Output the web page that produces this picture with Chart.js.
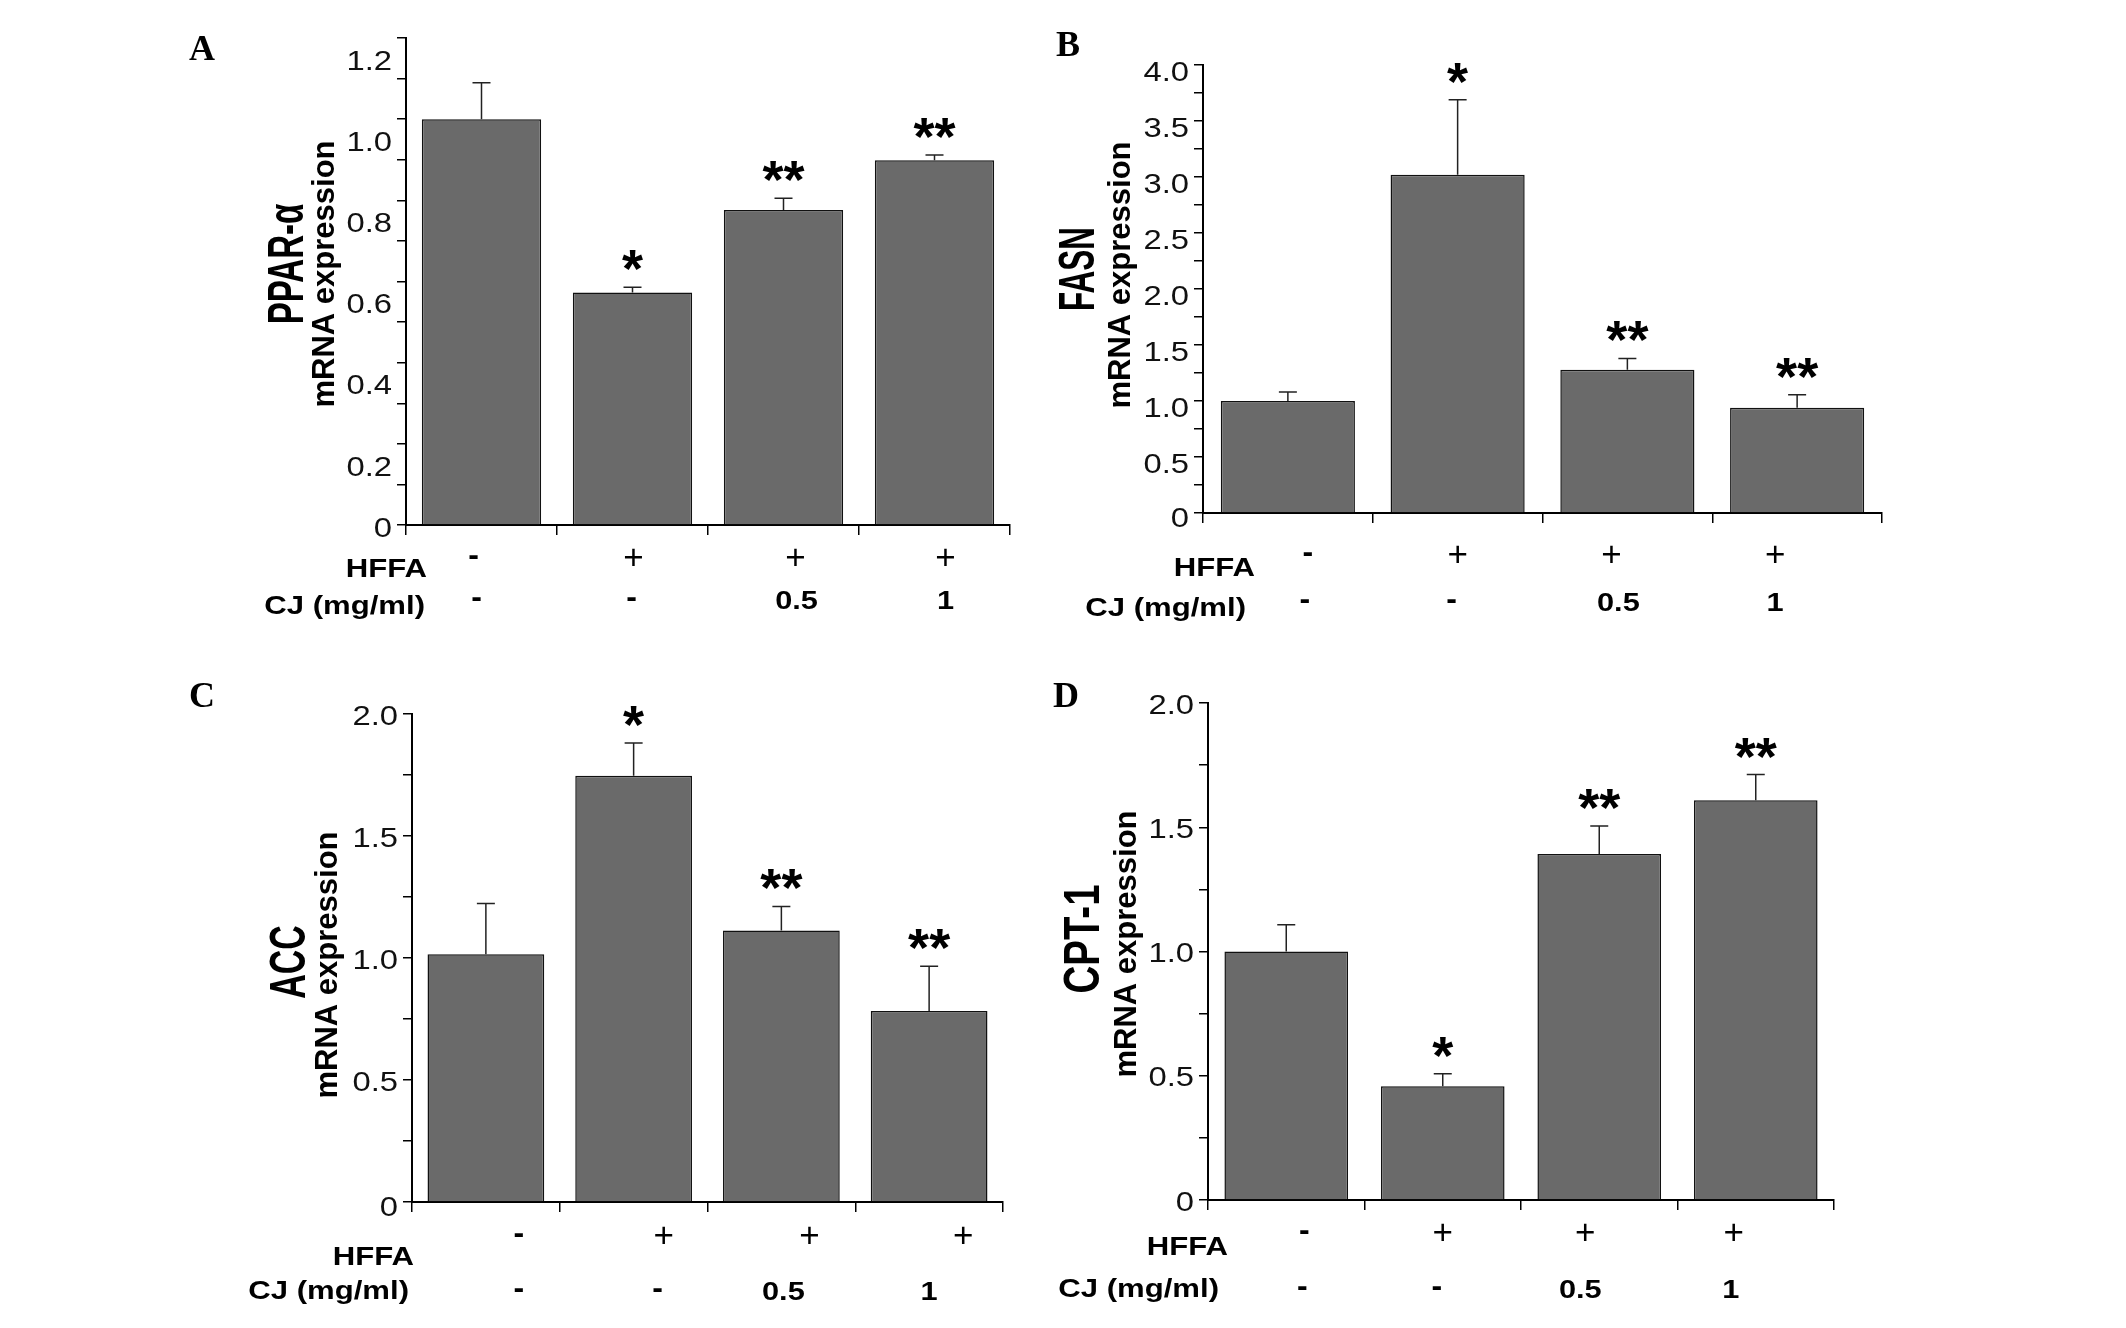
<!DOCTYPE html>
<html>
<head>
<meta charset="utf-8">
<script src="https://cdn.jsdelivr.net/npm/chart.js@4.4.1/dist/chart.umd.min.js"></script>
<style>
  html, body { margin: 0; padding: 0; background: #fff; }
  #page { position: relative; width: 2126px; height: 1328px; overflow: hidden; background: #fff; }
  .panel { position: absolute; left: 0; top: 0; width: 2126px; height: 1328px; }
</style>
</head>
<body>
<div id="page">
  <div class="panel"><canvas id="chartA"></canvas></div>
  <div class="panel"><canvas id="chartB"></canvas></div>
  <div class="panel"><canvas id="chartC"></canvas></div>
  <div class="panel"><canvas id="chartD"></canvas></div>
</div>
<script>
// treatment rows under the bars
const hffa = ['-', '+', '+', '+'];
const cjDose = ['-', '-', '0.5', '1'];

// A - PPAR-α
const pparValues = [1.00, 0.573, 0.776, 0.899];
const pparErrors = [0.09, 0.013, 0.029, 0.013];
const pparStars = ['', '*', '**', '**'];
const pparTicks = [0, 0.2, 0.4, 0.6, 0.8, 1.0, 1.2];

// B - FASN
const fasnValues = [1.00, 3.02, 1.28, 0.94];
const fasnErrors = [0.08, 0.67, 0.10, 0.115];
const fasnStars = ['', '*', '**', '**'];
const fasnTicks = [0, 0.5, 1.0, 1.5, 2.0, 2.5, 3.0, 3.5, 4.0];

// C - ACC
const accValues = [1.015, 1.747, 1.113, 0.783];
const accErrors = [0.208, 0.134, 0.098, 0.183];
const accStars = ['', '*', '**', '**'];
const accTicks = [0, 0.5, 1.0, 1.5, 2.0];

// D - CPT-1
const cptValues = [1.00, 0.458, 1.392, 1.609];
const cptErrors = [0.108, 0.05, 0.113, 0.103];
const cptStars = ['', '*', '**', '**'];
const cptTicks = [0, 0.5, 1.0, 1.5, 2.0];

const W = 2126, H = 1328;
const SANS = "'Liberation Sans', Arial, Helvetica, sans-serif";
const SERIF = "'Liberation Serif', 'Times New Roman', serif";
const BAR_GREY = '#6a6a6a';

const panels = [
  { id: 'chartA', letter: 'A', gene: 'PPAR-α', geneScale: 0.66,
    values: pparValues, errors: pparErrors, stars: pparStars, ticks: pparTicks, max: 1.2, step: 0.1,
    box: { left: 406, right: 1010, top: 38, bottom: 525 }, labelShift: 24, zeroShift: 4,
    letterPos: [202, 51], genePos: [289, 264], mrnaPos: [325, 274],
    hffaLabel: [427, 570], cjLabel: [425, 607], row1: 557, row2: 599,
    shift1: [-8, 1, 12, 11], shift2: [-5, -1, 13, 11] },
  { id: 'chartB', letter: 'B', gene: 'FASN', geneScale: 0.63,
    values: fasnValues, errors: fasnErrors, stars: fasnStars, ticks: fasnTicks, max: 4.0, step: 0.25,
    box: { left: 1203, right: 1882, top: 65, bottom: 513 }, labelShift: 8, zeroShift: 6,
    letterPos: [1068, 47], genePos: [1080, 269], mrnaPos: [1121, 275],
    hffaLabel: [1255, 569], cjLabel: [1246, 609], row1: 554, row2: 601,
    shift1: [20, 0, -16, -22], shift2: [17, -6, -9, -22] },
  { id: 'chartC', letter: 'C', gene: 'ACC', geneScale: 0.68,
    values: accValues, errors: accErrors, stars: accStars, ticks: accTicks, max: 2.0, step: 0.25,
    box: { left: 412, right: 1003, top: 714, bottom: 1202 }, labelShift: 3, zeroShift: 6,
    letterPos: [202, 698], genePos: [291, 962], mrnaPos: [328, 965],
    hffaLabel: [414, 1258], cjLabel: [409, 1292], row1: 1235, row2: 1290,
    shift1: [33, 30, 28, 34], shift2: [33, 24, 2, 0] },
  { id: 'chartD', letter: 'D', gene: 'CPT-1', geneScale: 0.77,
    values: cptValues, errors: cptErrors, stars: cptStars, ticks: cptTicks, max: 2.0, step: 0.25,
    box: { left: 1208, right: 1834, top: 703, bottom: 1200 }, labelShift: 3, zeroShift: 3,
    letterPos: [1066, 698], genePos: [1085, 939], mrnaPos: [1127, 944],
    hffaLabel: [1228, 1248], cjLabel: [1219, 1290], row1: 1232, row2: 1288,
    shift1: [18, 0, -14, -22], shift2: [16, -6, -19, -25] }
];

function drawText(ctx, text, x, y, o) {
  ctx.save();
  ctx.translate(x, y);
  if (o.rotate) ctx.rotate(o.rotate);
  ctx.scale(o.sx || 1, o.sy || 1);
  ctx.font = o.font;
  ctx.fillStyle = o.color || '#000';
  ctx.textAlign = o.align || 'center';
  ctx.textBaseline = o.baseline || 'middle';
  ctx.fillText(text, 0, 0);
  ctx.restore();
}

// marker text centred on a y position (baseline corrections per glyph)
function drawMarker(ctx, text, x, cy) {
  if (text === '+') {
    drawText(ctx, text, x, cy + 0.35 * 35, { font: '400 35px ' + SANS, baseline: 'alphabetic' });
  } else if (text === '-') {
    drawText(ctx, text, x, cy + 0.26 * 32, { font: '700 32px ' + SANS, baseline: 'alphabetic' });
  } else {
    drawText(ctx, text, x, cy + 0.36 * 26.5, { font: '700 26.5px ' + SANS, baseline: 'alphabetic', sx: 1.16 });
  }
}

const errorBars = {
  id: 'errorBars',
  afterDatasetsDraw(chart) {
    const p = chart.options.plugins.errorBars;
    const ctx = chart.ctx;
    const y = chart.scales.y;
    const meta = chart.getDatasetMeta(0);
    ctx.save();
    ctx.strokeStyle = '#222';
    ctx.lineWidth = 1.5;
    meta.data.forEach((bar, i) => {
      const top = y.getPixelForValue(p.values[i] + p.errors[i]);
      ctx.beginPath();
      ctx.moveTo(bar.x, bar.y);
      ctx.lineTo(bar.x, top);
      ctx.moveTo(bar.x - 9, top);
      ctx.lineTo(bar.x + 9, top);
      ctx.stroke();
    });
    ctx.restore();
  }
};

const annotations = {
  id: 'annotations',
  afterDraw(chart) {
    const p = chart.options.plugins.annotations;
    const ctx = chart.ctx;
    const x = chart.scales.x;
    const y = chart.scales.y;

    drawText(ctx, p.letter, p.letterPos[0], p.letterPos[1], { font: '700 36px ' + SERIF });
    drawText(ctx, p.gene, p.genePos[0], p.genePos[1], {
      font: '700 50px ' + SANS, rotate: -Math.PI / 2, sx: p.geneScale });
    drawText(ctx, 'mRNA expression', p.mrnaPos[0], p.mrnaPos[1], {
      font: '700 31px ' + SANS, rotate: -Math.PI / 2 });

    // y tick labels (stretched like the source figure)
    p.ticks.forEach(t => {
      const shift = t === 0 ? p.zeroShift : p.labelShift;
      const txt = t === 0 ? '0' : t.toFixed(1);
      drawText(ctx, txt, p.box.left - 14, y.getPixelForValue(t) + shift, {
        font: '400 28px ' + SANS, align: 'right', sx: 1.17, color: '#111' });
    });

    // significance marks
    p.values.forEach((v, i) => {
      if (!p.stars[i]) return;
      const top = y.getPixelForValue(v + p.errors[i]);
      drawText(ctx, p.stars[i], x.getPixelForValue(i), top - 30 + 0.555 * 54, {
        font: '700 54px ' + SANS, baseline: 'alphabetic' });
    });

    // treatment rows
    drawText(ctx, 'HFFA', p.hffaLabel[0], p.hffaLabel[1], {
      font: '700 25.5px ' + SANS, align: 'right', sx: 1.22 });
    drawText(ctx, 'CJ (mg/ml)', p.cjLabel[0], p.cjLabel[1], {
      font: '700 25.5px ' + SANS, align: 'right', sx: 1.22 });
    hffa.forEach((t, i) => drawMarker(ctx, t, x.getPixelForValue(i) + p.shift1[i], p.row1));
    cjDose.forEach((t, i) => drawMarker(ctx, t, x.getPixelForValue(i) + p.shift2[i], p.row2));
  }
};

panels.forEach(p => {
  new Chart(document.getElementById(p.id), {
    type: 'bar',
    data: {
      labels: hffa.map((h, i) => h + ' / ' + cjDose[i]),
      datasets: [{
        data: p.values,
        backgroundColor: BAR_GREY,
        borderColor: '#111',
        borderWidth: 1.5,
        barPercentage: 0.79,
        categoryPercentage: 1.0
      }]
    },
    options: {
      responsive: true,
      maintainAspectRatio: false,
      animation: false,
      layout: {
        padding: { left: p.box.left - 100, top: p.box.top, right: W - p.box.right, bottom: H - p.box.bottom - 10 }
      },
      plugins: {
        legend: { display: false },
        tooltip: { enabled: false },
        errorBars: p,
        annotations: p
      },
      scales: {
        x: {
          type: 'category',
          offset: true,
          afterFit: s => { s.height = 10; },
          grid: { offset: true, drawOnChartArea: false, drawTicks: true, tickLength: 10, color: '#000', lineWidth: 1.5 },
          border: { display: true, color: '#000', width: 2 },
          ticks: { display: false }
        },
        y: {
          min: 0,
          max: p.max,
          afterFit: s => { s.width = 100; },
          grid: { drawOnChartArea: false, drawTicks: true, tickLength: 9, color: '#000', lineWidth: 1.5 },
          border: { display: true, color: '#000', width: 2 },
          ticks: {
            stepSize: p.step,
            autoSkip: false,
            // labels are drawn by the annotations plugin
            callback: () => ''
          }
        }
      }
    },
    plugins: [errorBars, annotations]
  });
});
</script>
</body>
</html>
